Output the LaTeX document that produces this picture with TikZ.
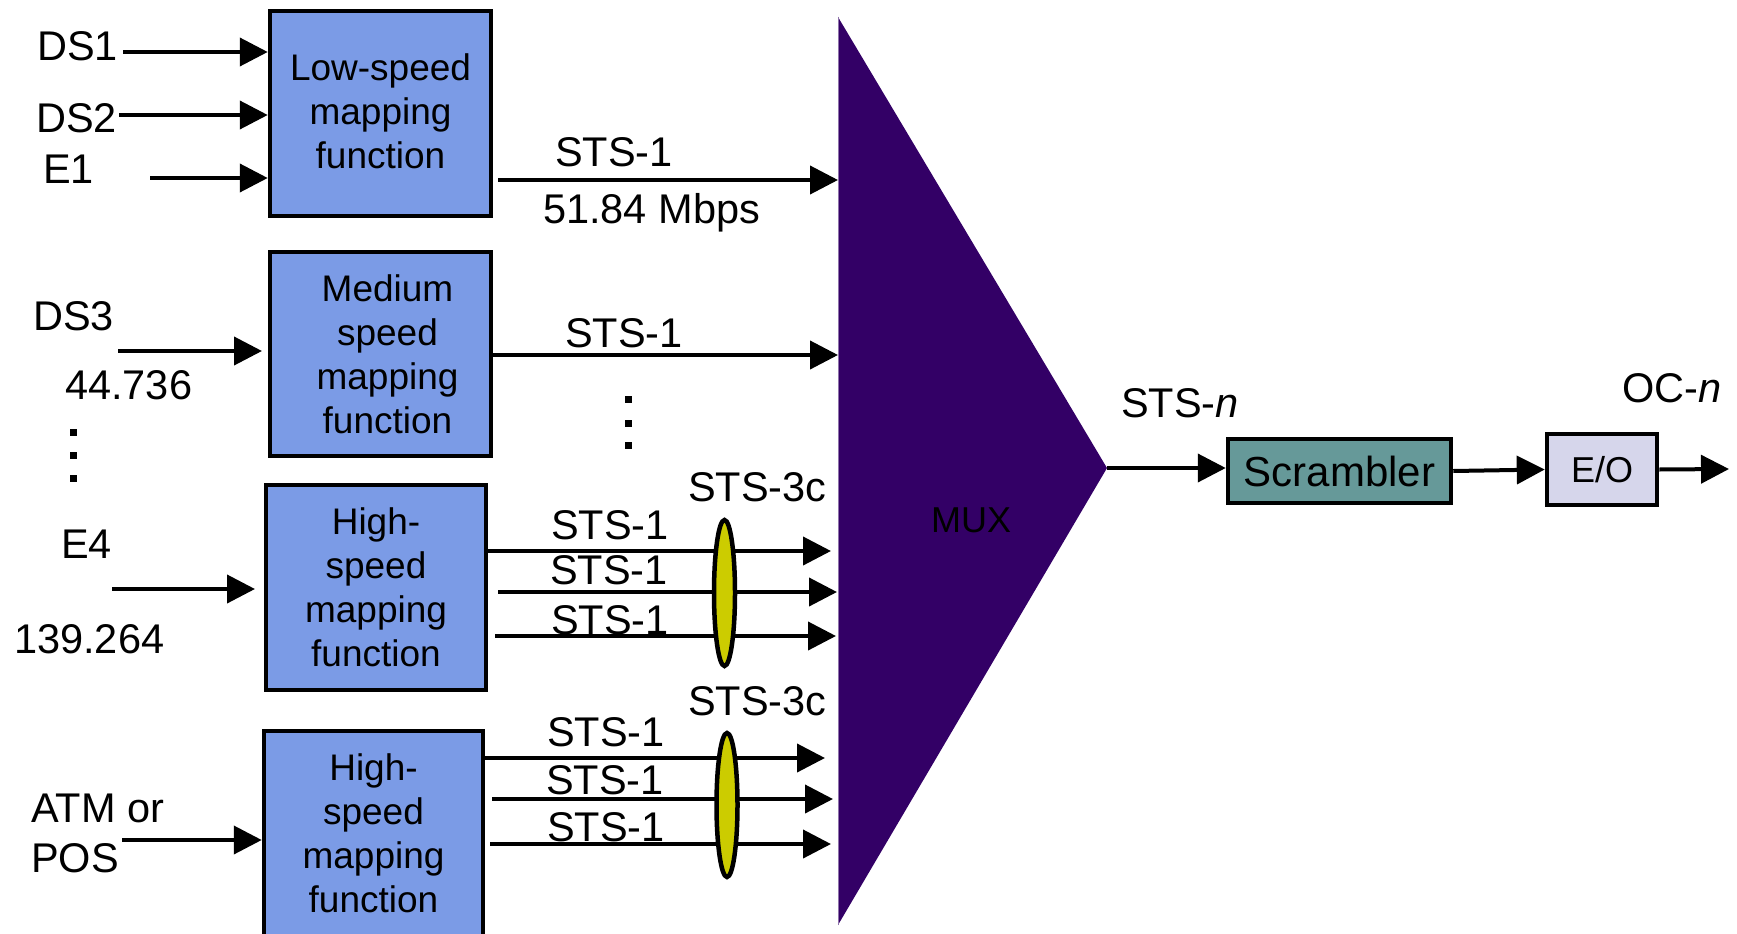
\documentclass[tikz,border=0pt]{standalone}
\usepackage{fontspec}
\setmainfont{Liberation Sans}
\usetikzlibrary{arrows.meta,shapes.geometric}
\definecolor{boxblue}{RGB}{123,155,230}
\definecolor{scrteal}{RGB}{102,153,153}
\definecolor{eolav}{RGB}{214,214,235}
\definecolor{muxpurple}{RGB}{51,0,102}
\definecolor{ellyellow}{RGB}{204,204,0}
\begin{document}
\begin{tikzpicture}[x=1pt,y=-1pt,
  lbl/.style={anchor=base west, inner sep=0pt, font=\fontsize{41.5}{48}\selectfont},
  mapbox/.style={draw, line width=4.5pt, fill=boxblue, align=center, inner sep=0pt,
    font=\fontsize{37}{44}\selectfont},
  arr/.style={line width=4pt, -{Triangle[length=28pt,width=28pt]}},
  ln/.style={line width=4pt},
  dotsq/.style={fill=black, inner sep=0pt, minimum size=7pt},
  grp/.style={draw, line width=4.5pt, fill=ellyellow, ellipse, inner sep=0pt,
    minimum width=21pt, minimum height=146pt}]
\useasboundingbox (0,0) rectangle (1737,934);

% MUX triangle
\fill[muxpurple] (838,17) -- (838,925) -- (1107,468) -- cycle;
\draw[line width=0.8pt, muxpurple!55!white] (838,17) -- (838,925);
\coordinate (muxtop) at (838,17);
\coordinate (muxtip) at (1107,468);
\node[anchor=base west, inner sep=0pt, font=\fontsize{36}{40}\selectfont] (muxlbl) at (931,532) {MUX};

% mapping boxes
\node[mapbox, minimum width=221pt, minimum height=205pt] (ls) at (380.5,113.5) {Low-speed\\mapping\\function\rule[-5pt]{0pt}{5pt}};
\node[mapbox, minimum width=221pt, minimum height=204pt] (ms) at (380.5,354) {\hspace*{14pt}Medium\\\hspace*{14pt}speed\\\hspace*{14pt}mapping\\\hspace*{14pt}function};
\node[mapbox, minimum width=220pt, minimum height=205pt] (h1) at (376,587.5) {High-\\speed\\mapping\\function};
\node[mapbox, minimum width=219pt, minimum height=205pt] (h2) at (373.5,833.5) {High-\\speed\\mapping\\function};

% input labels
\node[lbl] (tds1) at (37,60) {DS1};
\node[lbl] (tds2) at (36,132) {DS2};
\node[lbl] (te1) at (43,183) {E1};
\node[lbl] (tds3) at (33,330) {DS3};
\node[lbl] (t447) at (65,399) {44.736};
\node[dotsq] (ld1) at (73,432) {};
\node[dotsq] (ld2) at (73,455) {};
\node[dotsq] (ld3) at (73,478) {};
\node[lbl] (te4) at (61,558) {E4};
\node[lbl] (t139) at (14,653) {139.264};
\node[lbl] (tatm) at (31,822) {ATM or};
\node[lbl] (tpos) at (31,872) {POS};

% input arrows
\coordinate (sds1) at (123,52);
\coordinate (sds2) at (119,115);
\coordinate (se1) at (150,178);
\coordinate (sds3) at (118,351);
\coordinate (eds3) at (262,351);
\coordinate (se4) at (112,589);
\coordinate (ee4) at (255,589);
\coordinate (satm) at (122,840);
\draw[arr] (sds1) -- (sds1 -| ls.west);
\draw[arr] (sds2) -- (sds2 -| ls.west);
\draw[arr] (se1) -- (se1 -| ls.west);
\draw[arr] (sds3) -- (eds3);
\draw[arr] (se4) -- (ee4);
\draw[arr] (satm) -- (satm -| h2.west);

% outputs of low / medium speed
\coordinate (sls) at (498,180);
\coordinate (sms) at (493,355);
\draw[arr] (sls) -- (sls -| muxtop);
\draw[arr] (sms) -- (sms -| muxtop);
\node[lbl] (tsts1a) at (555,166) {STS-1};
\node[lbl] (tmbps) at (543,223) {51.84 Mbps};
\node[lbl] (tsts1b) at (565,347) {STS-1};
\node[dotsq] (md1) at (628,399) {};
\node[dotsq] (md2) at (628,423) {};
\node[dotsq] (md3) at (628,445) {};

% high speed 1 outputs
\coordinate (sa1) at (488,551); \coordinate (ea1) at (831,551);
\coordinate (sa2) at (498,592); \coordinate (ea2) at (837,592);
\coordinate (sa3) at (495,636); \coordinate (ea3) at (836,636);
\node[lbl] (ta1) at (551,539) {STS-1};
\node[lbl] (ta2) at (550,584) {STS-1};
\node[lbl] (ta3) at (551,634) {STS-1};
\draw[arr] (sa1) -- (ea1);
\draw[arr] (sa2) -- (ea2);
\draw[arr] (sa3) -- (ea3);
\node[grp] (g1) at (724.5,593) {};
\node[lbl] (t3c1) at (688,501) {STS-3c};

% high speed 2 outputs
\coordinate (sb1) at (485,758); \coordinate (eb1) at (825,758);
\coordinate (sb2) at (492,799); \coordinate (eb2) at (833,799);
\coordinate (sb3) at (490,844); \coordinate (eb3) at (831,844);
\node[lbl] (tb1) at (547,746) {STS-1};
\node[lbl] (tb2) at (546,794) {STS-1};
\node[lbl] (tb3) at (547,841) {STS-1};
\draw[arr] (sb1) -- (eb1);
\draw[arr] (sb2) -- (eb2);
\draw[arr] (sb3) -- (eb3);
\node[grp, minimum height=144pt] (g2) at (727,805) {};
\node[lbl] (t3c2) at (688,715) {STS-3c};

% right part
\node[draw, line width=4.5pt, fill=scrteal, inner sep=0pt, minimum width=223pt, minimum height=64pt,
  font=\fontsize{42}{48}\selectfont] (scr) at (1339.5,471) {Scrambler};
\node[draw, line width=4.5pt, fill=eolav, inner sep=0pt, minimum width=110pt, minimum height=71pt,
  font=\fontsize{36}{40}\selectfont] (eo) at (1602,469.5) {E/O};
\coordinate (oend) at (1729,469);
\draw[arr] (muxtip) -- (muxtip -| scr.west);
\draw[arr] (scr.east) -- (eo.west);
\draw[arr] (eo.east) -- (oend);
\node[lbl] (tstsn) at (1121,417) {STS-\textit{n}};
\node[lbl] (tocn) at (1622,402) {OC-\textit{n}};
\end{tikzpicture}
\end{document}
